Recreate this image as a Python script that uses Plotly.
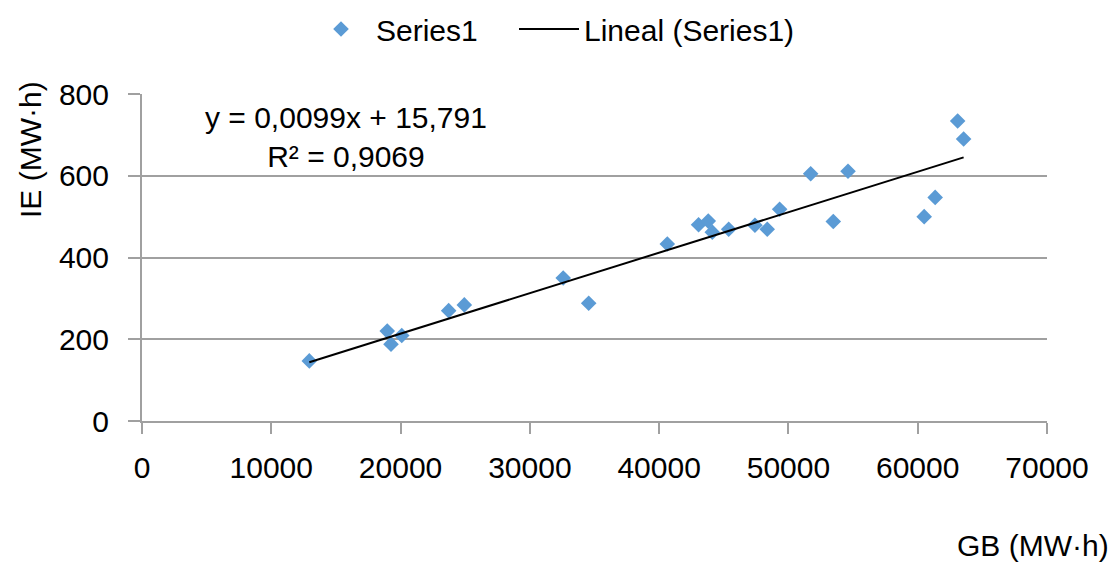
import plotly.graph_objects as go

# Generated energy (GB) vs. injected energy (IE), both in MW·h
gb_mwh = [12940, 18970, 19260, 20090, 23720, 24930, 32580, 34550, 40630, 43050,
          43800, 44110, 45380, 47410, 48360, 49320, 51720, 53470, 54610, 60500,
          61350, 63090, 63550]
ie_mwh = [147, 220, 188, 209, 270, 284, 350, 288, 433, 480,
          489, 462, 469, 479, 469, 518, 605, 488, 611, 500,
          547, 734, 690]

# Linear fit shown on the chart
slope = 0.0099
intercept = 15.791
r_squared = 0.9069

x_ticks = [0, 10000, 20000, 30000, 40000, 50000, 60000, 70000]
y_ticks = [0, 200, 400, 600, 800]

FONT = "Liberation Sans, Arial, sans-serif"
FS = 30
GRID = "#a0a0a0"

# plot-area pixel box, used to place free text
PX_L, PX_R, PX_T, PX_B = 142, 1047, 94, 421


def px_x(px):
    return (px - PX_L) / (PX_R - PX_L)


def px_y(py):
    return (PX_B - py) / (PX_B - PX_T)


def fmt(v, nd):
    return f"{v:.{nd}f}".replace(".", ",")


x_fit = [min(gb_mwh), max(gb_mwh)]
y_fit = [slope * x + intercept for x in x_fit]

fig = go.Figure()
fig.add_trace(go.Scatter(
    x=gb_mwh, y=ie_mwh, mode="markers", name="Series1",
    marker=dict(symbol="diamond", size=12, color="#5b9bd5"),
    legend="legend",
))
fig.add_trace(go.Scatter(
    x=x_fit, y=y_fit, mode="lines", name="Lineal (Series1)",
    line=dict(color="black", width=2),
    legend="legend2",
))

fig.add_annotation(
    x=px_x(346), y=px_y(137), xref="paper", yref="paper", showarrow=False,
    text=f"y = {fmt(slope, 4)}x + {fmt(intercept, 3)}<br>R² = {fmt(r_squared, 4)}",
    font=dict(family=FONT, size=FS, color="black"), align="center",
    xanchor="center", yanchor="middle",
)
fig.add_annotation(
    x=px_x(30), y=px_y(150), xref="paper", yref="paper", showarrow=False,
    text="IE (MW·h)", textangle=-90,
    font=dict(family=FONT, size=FS, color="black"),
    xanchor="center", yanchor="middle",
)
fig.add_annotation(
    x=px_x(1111), y=px_y(545), xref="paper", yref="paper", showarrow=False,
    text="GB (MW·h)", font=dict(family=FONT, size=FS, color="black"),
    xanchor="right", yanchor="middle",
)

legend_common = dict(
    orientation="h", xanchor="left", xref="container",
    y=1 - 3 / 562, yanchor="top", yref="container",
    font=dict(family=FONT, size=FS, color="black"),
    itemwidth=60, bgcolor="rgba(0,0,0,0)",
)

fig.update_layout(
    width=1117, height=562,
    margin=dict(l=PX_L, r=1117 - PX_R, t=PX_T, b=562 - PX_B),
    paper_bgcolor="white", plot_bgcolor="white",
    font=dict(family=FONT, size=FS, color="black"),
    showlegend=True,
    legend=dict(x=306 / 1117, **legend_common),
    legend2=dict(x=514 / 1117, **legend_common),
    xaxis=dict(
        range=[0, 70000], tickvals=x_ticks, ticktext=[str(v) for v in x_ticks],
        showgrid=False, zeroline=False,
        showline=True, linecolor=GRID, linewidth=2,
        ticks="outside", ticklen=11, tickcolor=GRID, tickwidth=2,
        ticklabelstandoff=8,
        tickfont=dict(family=FONT, size=FS, color="black"),
    ),
    yaxis=dict(
        range=[0, 800], tickvals=y_ticks, ticktext=[str(v) for v in y_ticks],
        showgrid=True, gridcolor=GRID, gridwidth=2, zeroline=False,
        showline=True, linecolor=GRID, linewidth=2,
        ticks="outside", ticklen=12, tickcolor=GRID, tickwidth=2,
        ticklabelstandoff=13,
        tickfont=dict(family=FONT, size=FS, color="black"),
    ),
)

fig.write_html("out.html")
